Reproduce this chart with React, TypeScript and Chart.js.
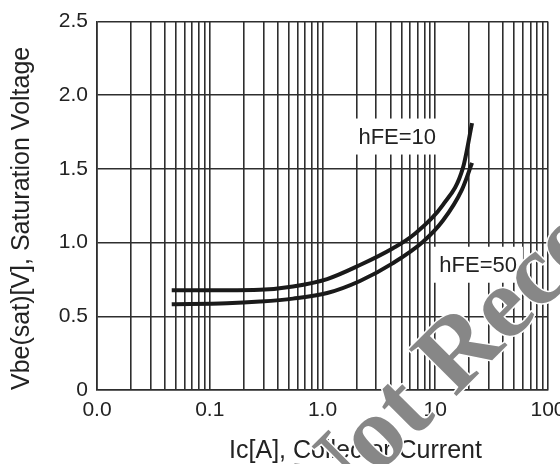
import React, { useEffect, useRef } from 'react';
import { Chart, registerables } from 'chart.js';

Chart.register(...registerables);

// ---- data ----
const xMajorValues = [0.01, 0.1, 1, 10, 100];
const xTickLabels = ['0.0', '0.1', '1.0', '10', '100'];
const xMinorMultipliers = [2, 3, 4, 5, 6, 7, 8, 9];
const yTickValues = [0, 0.5, 1, 1.5, 2, 2.5];
const yTickLabels = ['0', '0.5', '1.0', '1.5', '2.0', '2.5'];

const seriesNames = ['hFE=10', 'hFE=50'];
const icHfe10 = [0.046, 0.142, 0.279, 0.547, 1.1, 2.15, 4.22, 6.35, 11.7, 17.6, 21.2];
const vbeHfe10 = [0.677, 0.677, 0.68, 0.703, 0.753, 0.848, 0.962, 1.05, 1.256, 1.507, 1.811];
const icHfe50 = [0.046, 0.142, 0.279, 0.547, 1.1, 2.15, 4.22, 7.79, 11.7, 17.3, 21.2];
const vbeHfe50 = [0.582, 0.588, 0.6, 0.62, 0.658, 0.74, 0.861, 1.006, 1.15, 1.362, 1.541];

const labelIc = [4.6, 24];
const labelVbe = [1.72, 0.85];

const xTitle = 'Ic[A], Collector Current';
const yTitle = 'Vbe(sat)[V], Saturation Voltage';
const watermarkText = 'Not Recommended';

const SANS = '"Liberation Sans", Arial, sans-serif';
const INK = '#222222';
const GRID = '#2e2e2e';

const xGridValues: number[] = [];
xMajorValues.forEach((m, i) => {
  xGridValues.push(m);
  if (i < xMajorValues.length - 1) xMinorMultipliers.forEach((k) => xGridValues.push(m * k));
});

const overlayPlugin = {
  id: 'overlay',
  beforeDatasetsDraw(chart: any) {
    const { ctx } = chart;
    const x = chart.scales.x;
    const y = chart.scales.y;
    ctx.save();
    ctx.font = `22px ${SANS}`;
    ctx.textAlign = 'center';
    ctx.textBaseline = 'middle';
    seriesNames.forEach((name, i) => {
      const px = x.getPixelForValue(labelIc[i]);
      const py = y.getPixelForValue(labelVbe[i]);
      const w = ctx.measureText(name).width + 12;
      const h = 36;
      ctx.fillStyle = '#ffffff';
      ctx.fillRect(px - w / 2, py - h / 2, w, h);
      ctx.fillStyle = INK;
      ctx.fillText(name, px, py + 1);
    });
    ctx.restore();
  },
  afterDraw(chart: any) {
    const { ctx, chartArea } = chart;
    ctx.save();
    ctx.font = `25px ${SANS}`;
    ctx.fillStyle = INK;
    ctx.textAlign = 'center';
    ctx.textBaseline = 'alphabetic';
    ctx.fillText(xTitle, (chartArea.left + chartArea.right) / 2 + 33, chart.height - 6);
    ctx.restore();

    const size = 102;
    ctx.save();
    ctx.font = `bold ${size}px "Liberation Serif", "Times New Roman", serif`;
    const pre = ctx.measureText('Not ').width + ctx.measureText('R').width / 2;
    ctx.translate(chartArea.right - 91, chartArea.bottom - 42);
    ctx.rotate(-Math.PI / 4);
    ctx.textAlign = 'left';
    ctx.textBaseline = 'alphabetic';
    ctx.lineJoin = 'round';
    ctx.lineWidth = 3;
    ctx.strokeStyle = '#ffffff';
    ctx.strokeText(watermarkText, -pre, size * 0.33);
    ctx.fillStyle = '#878787';
    ctx.fillText(watermarkText, -pre, size * 0.33);
    ctx.restore();
  },
};

export default function App() {
  const canvasRef = useRef<HTMLCanvasElement | null>(null);

  useEffect(() => {
    if (!canvasRef.current) return;
    const lineStyle = {
      borderColor: '#1a1a1a',
      borderWidth: 4,
      pointRadius: 0,
      fill: false,
      tension: 0.4,
      cubicInterpolationMode: 'monotone' as const,
    };
    const chart = new Chart(canvasRef.current, {
      type: 'line',
      data: {
        datasets: [
          { label: seriesNames[0], data: icHfe10.map((v, i) => ({ x: v, y: vbeHfe10[i] })), ...lineStyle },
          { label: seriesNames[1], data: icHfe50.map((v, i) => ({ x: v, y: vbeHfe50[i] })), ...lineStyle },
        ],
      },
      options: {
        responsive: false,
        animation: false,
        layout: { padding: { top: 18, right: 12, bottom: 0, left: 0 } },
        plugins: { legend: { display: false }, tooltip: { enabled: false } },
        scales: {
          x: {
            type: 'logarithmic',
            min: 0.01,
            max: 100,
            afterBuildTicks: (scale: any) => {
              scale.ticks = xGridValues.map((v) => ({ value: v }));
            },
            afterFit: (scale: any) => {
              scale.height = 74;
              scale.paddingRight = 0;
              scale.paddingLeft = 0;
            },
            grid: { color: GRID, lineWidth: 1.6, drawTicks: false },
            border: { display: true, color: GRID, width: 1.6 },
            ticks: {
              autoSkip: false,
              maxRotation: 0,
              minRotation: 0,
              padding: 8,
              color: INK,
              font: { family: SANS, size: 21 },
              callback: (value: any) => {
                const idx = xMajorValues.findIndex((m) => Math.abs(Number(value) / m - 1) < 1e-6);
                return idx >= 0 ? xTickLabels[idx] : '';
              },
            },
            title: { display: false, text: xTitle },
          },
          y: {
            type: 'linear',
            min: 0,
            max: 2.5,
            afterBuildTicks: (scale: any) => {
              scale.ticks = yTickValues.map((v) => ({ value: v }));
            },
            afterFit: (scale: any) => {
              scale.width = 97;
            },
            grid: { color: GRID, lineWidth: 1.6, drawTicks: false },
            border: { display: true, color: GRID, width: 1.6 },
            ticks: {
              padding: 9,
              color: INK,
              font: { family: SANS, size: 21 },
              callback: (value: any) => {
                const idx = yTickValues.findIndex((m) => Math.abs(Number(value) - m) < 1e-6);
                return idx >= 0 ? yTickLabels[idx] : '';
              },
            },
            title: {
              display: true,
              text: yTitle,
              align: 'start',
              color: INK,
              font: { family: SANS, size: 25, lineHeight: 1.2 },
              padding: { top: 7, bottom: 0 },
            },
          },
        },
      },
      plugins: [overlayPlugin],
    } as any);
    return () => chart.destroy();
  }, []);

  return (
    <div style={{ position: 'absolute', left: 0, top: 0, width: 560, height: 464, background: '#fff' }}>
      <canvas ref={canvasRef} width={560} height={464} style={{ display: 'block' }} />
    </div>
  );
}
